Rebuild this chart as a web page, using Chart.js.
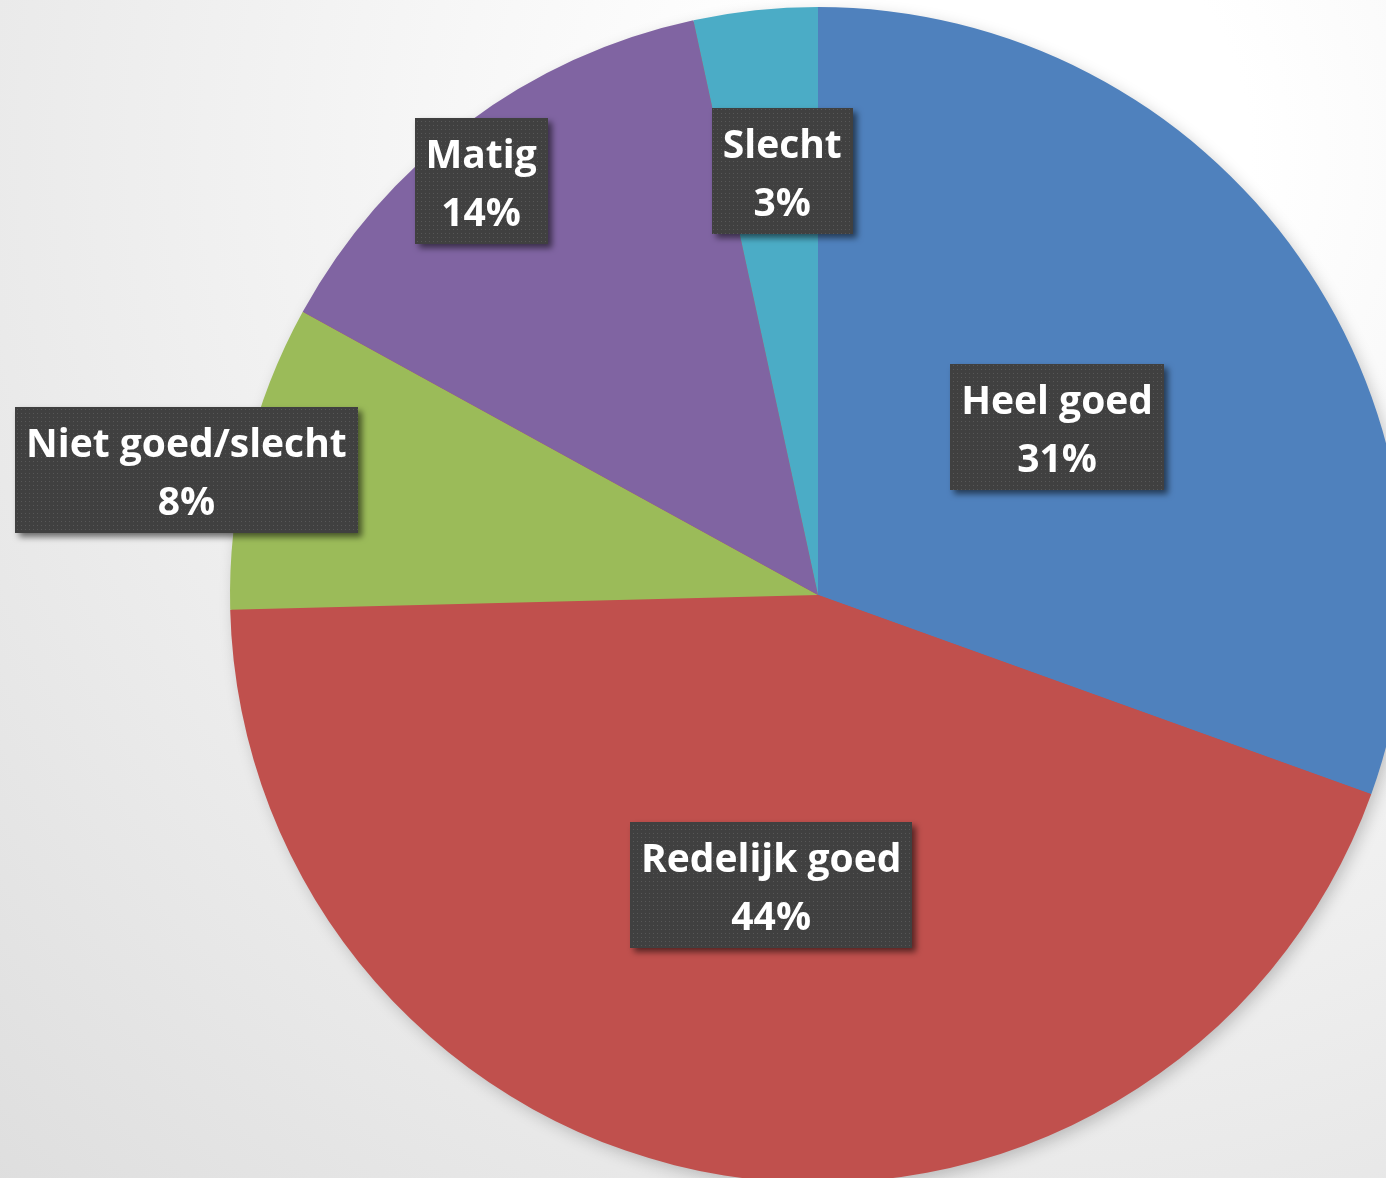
<!DOCTYPE html>
<html>
<head>
<meta charset="utf-8">
<script src="https://cdn.jsdelivr.net/npm/chart.js@4.4.1/dist/chart.umd.min.js"></script>
<style>
    html, body {
        margin: 0;
        padding: 0;
        width: 1386px;
        height: 1178px;
        overflow: hidden;
        background: radial-gradient(circle at 1000px 150px, #ffffff 0px, #ffffff 250px, #dedede 1450px);
    }
    #wrap {
        position: absolute;
        left: 0;
        top: 0;
        width: 1636px;
        height: 1190px;
    }
</style>
</head>
<body>
<div id="wrap"><canvas id="pieChart"></canvas></div>
<script>
// data
const categories = ["Heel goed", "Redelijk goed", "Niet goed/slecht", "Matig", "Slecht"];
const shares = [30.5, 44.1, 8.4, 13.6, 3.4];
const sliceColors = ["#4F81BD", "#C0504D", "#9BBB59", "#8064A2", "#4BACC6"];

// label placement: radius factor + angle shift (deg) from slice middle
const labelRadius = [0.497, 0.499, 1.095, 0.908, 0.723];
const labelShift = [0, 0, -2.5, -2.4, 1.3];

function makeDotPattern(ctx) {
    const p = document.createElement("canvas");
    p.width = 4;
    p.height = 4;
    const pc = p.getContext("2d");
    pc.fillStyle = "#404040";
    pc.fillRect(0, 0, 4, 4);
    pc.fillStyle = "#575757";
    pc.fillRect(1, 1, 1, 1);
    return ctx.createPattern(p, "repeat");
}

// soft shadow under the whole pie
const pieShadow = {
    id: "pieShadow",
    beforeDatasetsDraw(chart) {
        const arc = chart.getDatasetMeta(0).data[0];
        if (!arc) return;
        const p = arc.getProps(["x", "y", "outerRadius"], true);
        const ctx = chart.ctx;
        ctx.save();
        ctx.shadowColor = "rgba(0,0,0,0.22)";
        ctx.shadowBlur = 16;
        ctx.shadowOffsetX = 4;
        ctx.shadowOffsetY = 5;
        ctx.fillStyle = "#c0504d";
        ctx.beginPath();
        ctx.arc(p.x, p.y, p.outerRadius - 1, 0, Math.PI * 2);
        ctx.fill();
        ctx.restore();
    }
};

const boxLabels = {
    id: "boxLabels",
    afterDatasetsDraw(chart) {
        const ctx = chart.ctx;
        const meta = chart.getDatasetMeta(0);
        const total = shares.reduce((a, b) => a + b, 0);
        const pattern = makeDotPattern(ctx);
        const boxH = 126;

        meta.data.forEach((arc, i) => {
            const p = arc.getProps(["x", "y", "startAngle", "endAngle", "outerRadius"], true);
            const mid = (p.startAngle + p.endAngle) / 2 + labelShift[i] * Math.PI / 180;
            const r = p.outerRadius * labelRadius[i];
            const cx = p.x + Math.cos(mid) * r;
            const cy = p.y + Math.sin(mid) * r;

            const line1 = categories[i];
            const line2 = Math.round(shares[i] / total * 100) + "%";

            ctx.save();
            ctx.font = "bold 39px 'Open Sans'";
            const w = Math.max(ctx.measureText(line1).width, ctx.measureText(line2).width) + 22;
            const top = Math.round(cy - boxH / 2);

            ctx.shadowColor = "rgba(0,0,0,0.55)";
            ctx.shadowBlur = 6;
            ctx.shadowOffsetX = 4;
            ctx.shadowOffsetY = 4;
            ctx.fillStyle = pattern;
            ctx.fillRect(Math.round(cx - w / 2), top, Math.round(w), boxH);
            ctx.shadowColor = "transparent";

            ctx.fillStyle = "#ffffff";
            ctx.textAlign = "center";
            ctx.textBaseline = "alphabetic";
            ctx.fillText(line1, cx, top + 50);
            ctx.fillText(line2, cx, top + 108);
            ctx.restore();
        });
    }
};

new Chart(document.getElementById("pieChart"), {
    type: "pie",
    data: {
        labels: categories,
        datasets: [{
            data: shares,
            backgroundColor: sliceColors,
            borderWidth: 0
        }]
    },
    options: {
        responsive: true,
        maintainAspectRatio: false,
        animation: false,
        layout: { padding: 7 },
        plugins: {
            legend: { display: false },
            tooltip: { enabled: false }
        }
    },
    plugins: [pieShadow, boxLabels]
});
</script>
</body>
</html>
